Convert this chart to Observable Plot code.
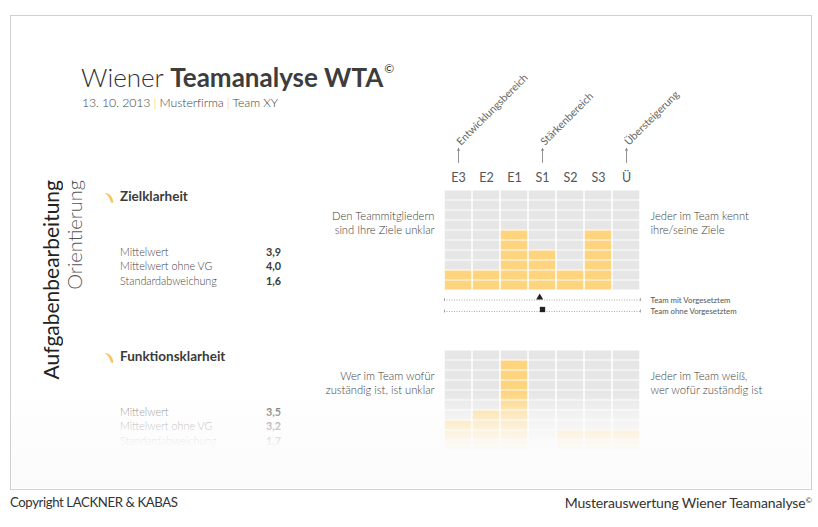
<!DOCTYPE html>
<html>
<head>
<meta charset="utf-8">
<script src="https://cdn.jsdelivr.net/npm/d3@7"></script>
<script src="https://cdn.jsdelivr.net/npm/@observablehq/plot@0.6"></script>
<style>
  html, body { margin: 0; padding: 0; background: #fff; }
  #page { position: relative; width: 818px; height: 527px; overflow: hidden; font-family: Lato, "Open Sans", sans-serif; color: #3c3c3c; }
  .abs { position: absolute; white-space: nowrap; line-height: 1; }
  .frame { position: absolute; left: 10px; top: 15px; width: 800px; height: 473px; border: 1.5px solid #d0d0d0; }
  .plot { position: absolute; left: 0; }
  .fade { position: absolute; left: 12px; top: 392px; width: 798px; height: 96px; pointer-events: none;
          background: linear-gradient(to bottom, rgba(252,252,252,0) 0%, rgba(252,252,252,0.55) 25%, rgba(252,252,252,0.95) 55%, rgba(251,251,251,1) 100%); }
</style>
</head>
<body>
<div id="page">
  <div class="frame"></div>
</div>
<script>
// ---------------- data ----------------
const categories = ["E3", "E2", "E1", "S1", "S2", "S3", "Ü"];
const rowCount = 10;
const zielCounts = [2, 2, 6, 4, 2, 6, 0];
const funktionCounts = [3, 4, 9, 0, 2, 2, 2];
const statLabels = ["Mittelwert", "Mittelwert ohne VG", "Standardabweichung"];
const zielStats = ["3,9", "4,0", "1,6"];
const funktionStats = ["3,5", "3,2", "1,7"];
const zielMeanMit = 3.9;
const zielMeanOhne = 4.0;
const areaLabels = ["Entwicklungsbereich", "Stärkenbereich", "Übersteigerung"];
const areaCats = ["E3", "S1", "Ü"];
const legendLabels = ["Team mit Vorgesetztem", "Team ohne Vorgesetztem"];

const page = document.getElementById("page");
const ORANGE = "#fed47f", GRAY = "#e6e6e7";

function put(html, css) {
  const d = document.createElement("div");
  d.className = "abs";
  d.innerHTML = html;
  Object.assign(d.style, css);
  page.appendChild(d);
  return d;
}

// ---------------- header ----------------
put('<span style="font-weight:300">Wiener </span><span style="font-weight:700;color:#3d3d3d">Teamanalyse WTA</span><sup style="font-size:12px;font-weight:400;vertical-align:top;position:relative;top:-1px;margin-left:1px">©</sup>',
    {left: "81px", top: "64px", fontSize: "26px", color: "#333"});
put('<span style="font-weight:300">13. 10. 2013 <span style="color:#f5c96a">|</span> Musterfirma <span style="color:#f5c96a">|</span> Team XY</span>',
    {left: "82px", top: "97px", fontSize: "12.3px", color: "#444", letterSpacing: "-0.1px"});

// rotated side labels
put("Aufgabenbearbeitung", {left: "40px", top: "180px", fontSize: "21px", fontWeight: "400", writingMode: "vertical-rl", transform: "rotate(180deg)", color: "#222"});
put("Orientierung", {left: "64px", top: "180px", fontSize: "20px", fontWeight: "300", writingMode: "vertical-rl", transform: "rotate(180deg)", color: "#555"});

// ---------------- left blocks ----------------
function swoosh(x, y) {
  const d = document.createElement("div");
  d.className = "abs";
  d.style.left = x + "px"; d.style.top = y + "px";
  d.innerHTML = '<svg width="12" height="12" viewBox="0 0 12 12"><path d="M0.5,1 C5,1 8.5,4 9.5,10.5 C8.5,10.8 7.5,10.8 7,10.5 C6,6 4,3 0.5,1 Z" fill="#f7c35c"/></svg>';
  page.appendChild(d);
}
function block(title, cy, stats, statY) {
  swoosh(104, cy - 7);
  put(title, {left: "120px", top: (cy - 7) + "px", fontSize: "13.5px", fontWeight: "700", color: "#3a3a3a"});
  statLabels.forEach((s, i) => {
    put(s, {left: "120px", top: (statY + i * 14.5 - 5.5) + "px", fontSize: "10.8px", fontWeight: "300", color: "#444"});
    put(stats[i], {left: "281px", top: (statY + i * 14.5 - 5.5) + "px", fontSize: "10.8px", fontWeight: "700", color: "#3a3a3a", transform: "translateX(-100%)"});
  });
}
block("Zielklarheit", 197, zielStats, 252);
block("Funktionsklarheit", 357, funktionStats, 412);

// ---------------- grids ----------------
function cellsFor(counts) {
  const out = [];
  counts.forEach((c, i) => {
    for (let r = 0; r < rowCount; r++) out.push({i: i + 1, r, filled: r < c});
  });
  return out;
}
function grid(counts, leftText, rightText, extra, top, height, marginTop, marginBottom) {
  const svg = Plot.plot({
    width: 818, height, marginLeft: 444, marginRight: 178, marginTop, marginBottom,
    x: {domain: [0.5, 7.5], axis: null},
    y: {domain: [0, rowCount], axis: null},
    style: {fontFamily: "Lato, sans-serif", background: "transparent", overflow: "visible"},
    marks: [
      Plot.rect(cellsFor(counts), {x1: d => d.i - 0.5, x2: d => d.i + 0.5, y1: d => d.r, y2: d => d.r + 1,
        fill: d => d.filled ? ORANGE : GRAY, insetLeft: 0.75, insetRight: 0.75, insetTop: 0.5, insetBottom: 0.5}),
      Plot.text([leftText], {x: 0.5, y: 6.8, dx: -10, text: d => d, textAnchor: "end", fontSize: 11.2, fontWeight: 300, fill: "#3c3c3c", lineHeight: 1.3}),
      Plot.text([rightText], {x: 7.5, y: 6.8, dx: 10, text: d => d, textAnchor: "start", fontSize: 11.2, fontWeight: 300, fill: "#3c3c3c", lineHeight: 1.3}),
      ...extra
    ]
  });
  svg.classList.add("plot");
  svg.style.top = top + "px";
  page.appendChild(svg);
}

const rowMit = -0.95, rowOhne = -2.1;
grid(zielCounts, "Den Teammitgliedern\nsind Ihre Ziele unklar", "Jeder im Team kennt\nihre/seine Ziele", [
  Plot.text(categories, {x: (d, i) => i + 1, y: rowCount, dy: -13, text: d => d, fontSize: 12.5, fontWeight: 400, fill: "#555"}),
  Plot.arrow(areaCats, {x1: d => categories.indexOf(d) + 1, x2: d => categories.indexOf(d) + 1, y1: rowCount + 2.8, y2: rowCount + 4.2,
    stroke: "#777", strokeWidth: 0.8, headLength: 4, headAngle: 50}),
  Plot.text(areaLabels, {x: (d, i) => categories.indexOf(areaCats[i]) + 1, y: rowCount + 4.2, dx: 0, dy: -5, rotate: -45,
    text: d => d, textAnchor: "start", fontSize: 10.6, fontWeight: 400, fill: "#666"}),
  Plot.ruleY([rowMit, rowOhne], {x1: 0.5, x2: 7.5, stroke: "#888", strokeWidth: 0.7, strokeDasharray: "1 1.5"}),
  Plot.ruleX([0.5, 7.5, 0.5, 7.5], {y1: (d, i) => (i < 2 ? rowMit : rowOhne) - 0.15, y2: (d, i) => (i < 2 ? rowMit : rowOhne) + 0.15, stroke: "#888", strokeWidth: 0.7}),
  Plot.dot([zielMeanMit], {x: d => d, y: rowMit, dy: -2.5, symbol: "triangle", r: 2.6, fill: "#222", stroke: "none"}),
  Plot.dot([zielMeanOhne], {x: d => d, y: rowOhne, dy: -2, symbol: "square", r: 3, fill: "#222", stroke: "none"}),
  Plot.text(legendLabels, {x: 7.5, y: (d, i) => i === 0 ? rowMit : rowOhne, dx: 10, text: d => d, textAnchor: "start", fontSize: 7.8, fontWeight: 400, fill: "#555"})
], 0, 320, 190, 30);

grid(funktionCounts, "Wer im Team wofür\nzuständig ist, ist unklar", "Jeder im Team weiß,\nwer wofür zuständig ist", [], 330, 130, 20, 10);

// fade overlay
const fade = document.createElement("div");
fade.className = "fade";
page.appendChild(fade);

// ---------------- footer ----------------
put("Copyright LACKNER &amp; KABAS", {left: "10px", top: "496px", fontSize: "13.2px", fontWeight: "400", letterSpacing: "-0.4px", color: "#333"});
put("Musterauswertung Wiener Teamanalyse<sup style='font-size:8px;vertical-align:top'>©</sup>", {left: "812px", top: "496px", fontSize: "14px", fontWeight: "400", letterSpacing: "-0.15px", color: "#333", transform: "translateX(-100%)"});
</script>
</body>
</html>
